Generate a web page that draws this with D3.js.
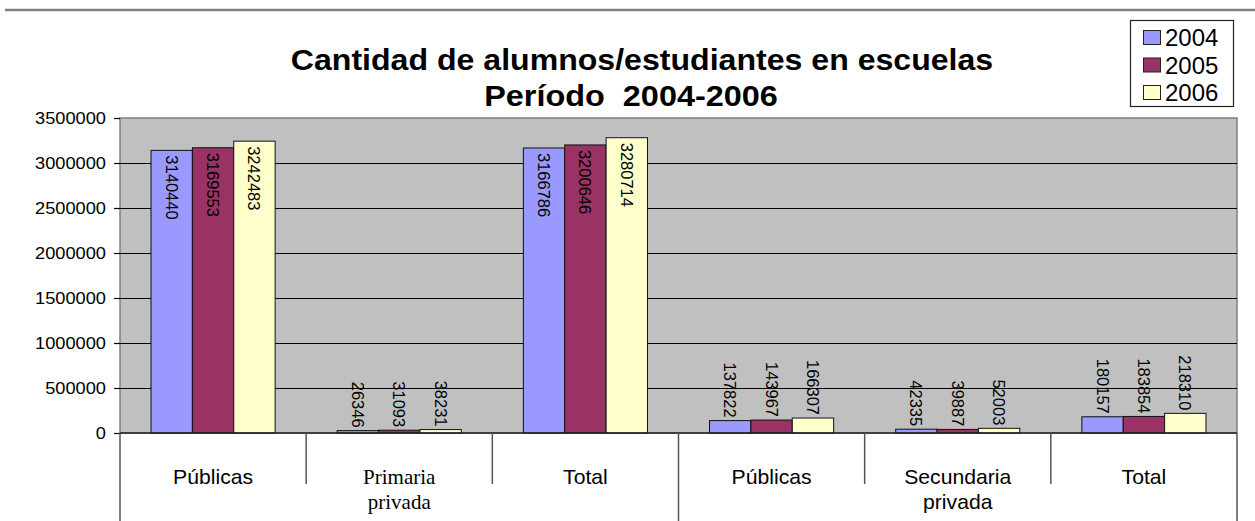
<!DOCTYPE html>
<html>
<head>
<meta charset="utf-8">
<script src="https://cdn.jsdelivr.net/npm/d3@7"></script>
<style>
  body { margin: 0; background: #fff; }
  text { font-family: "Liberation Sans", Arial, sans-serif; fill: #000; }
</style>
</head>
<body>
<svg id="chart" width="1255" height="521"></svg>
<script>
// data
const categories = ["Públicas", "Primaria privada", "Total", "Públicas", "Secundaria privada", "Total"];
const years = ["2004", "2005", "2006"];
const values2004 = [3140440, 26346, 3166786, 137822, 42335, 180157];
const values2005 = [3169553, 31093, 3200646, 143967, 39887, 183854];
const values2006 = [3242483, 38231, 3280714, 166307, 52003, 218310];
const yTicks = [0, 500000, 1000000, 1500000, 2000000, 2500000, 3000000, 3500000];
const groupEnds = [2, 5]; // last category of each group (Primaria / Secundaria)

const colors = { "2004": "#9999ff", "2005": "#993366", "2006": "#ffffcc" };
const series = [values2004, values2005, values2006];

const plot = { left: 120, right: 1237, top: 118, bottom: 433 };
const svg = d3.select("#chart");

// stretch text horizontally a bit, the picture is widened
function stretched(sel, x, y, k) {
  return sel.attr("transform", "translate(" + x + "," + y + ") scale(" + k + ",1)");
}

// top rule
svg.append("line")
  .attr("x1", 5).attr("x2", 1255).attr("y1", 10).attr("y2", 10)
  .attr("stroke", "#808080").attr("stroke-width", 2.5);

const x0 = d3.scaleBand().domain(d3.range(categories.length)).range([plot.left, plot.right]);
const x1 = d3.scaleBand().domain(years).range([0, x0.bandwidth()]).paddingOuter(0.75);
const y = d3.scaleLinear().domain([0, 3500000]).range([plot.bottom, plot.top]);

// plot area
svg.append("rect")
  .attr("x", plot.left).attr("y", plot.top)
  .attr("width", plot.right - plot.left).attr("height", plot.bottom - plot.top)
  .attr("fill", "#c0c0c0").attr("stroke", "#808080").attr("stroke-width", 1.5);

// grid lines
svg.append("g").selectAll("line")
  .data(yTicks.filter(t => t > 0 && t < 3500000))
  .join("line")
  .attr("x1", plot.left).attr("x2", plot.right)
  .attr("y1", d => Math.round(y(d)) + 0.5).attr("y2", d => Math.round(y(d)) + 0.5)
  .attr("stroke", "#000").attr("stroke-width", 1.2);

// y axis
const yAxis = d3.axisLeft(y).tickValues(yTicks).tickFormat(d3.format("d")).tickSize(6).tickPadding(8);
const gy = svg.append("g").attr("transform", "translate(" + plot.left + ",0)").call(yAxis);
gy.select(".domain").remove();
gy.selectAll(".tick line").attr("stroke", "#000").attr("stroke-width", 1.2);
gy.selectAll(".tick text")
  .attr("font-size", 16).attr("font-family", "Liberation Sans, Arial, sans-serif")
  .attr("fill", "#222")
  .each(function () {
    const t = d3.select(this);
    stretched(t, -14, 0, 1.14).attr("x", 0).attr("dy", "0.36em");
  });

// bars
const bars = svg.append("g");
series.forEach((vals, si) => {
  const yr = years[si];
  bars.append("g").selectAll("rect")
    .data(vals)
    .join("rect")
    .attr("x", (d, i) => x0(i) + x1(yr))
    .attr("y", d => y(d))
    .attr("width", x1.bandwidth())
    .attr("height", d => y(0) - y(d))
    .attr("fill", colors[yr])
    .attr("stroke", "#111").attr("stroke-width", 1);
});

// data labels, rotated: outside end when there is room, else inside end
const labelSize = 16.5;
series.forEach((vals, si) => {
  const yr = years[si];
  bars.append("g").selectAll("text")
    .data(vals)
    .join("text")
    .attr("font-size", labelSize)
    .attr("dominant-baseline", "central")
    .attr("text-anchor", d => (y(d) - plot.top > 75 ? "end" : "start"))
    .attr("transform", (d, i) => {
      const cx = x0(i) + x1(yr) + x1.bandwidth() / 2;
      const ty = y(d) - plot.top > 75 ? y(d) - 3 : y(d) + 5;
      return "translate(" + cx + "," + ty + ") rotate(90)";
    })
    .text(d => d);
});

// x axis line and category box
svg.append("line")
  .attr("x1", plot.left).attr("x2", plot.right)
  .attr("y1", plot.bottom).attr("y2", plot.bottom)
  .attr("stroke", "#222").attr("stroke-width", 1.5);

const seps = d3.range(categories.length + 1);
svg.append("g").selectAll("line")
  .data(seps)
  .join("line")
  .attr("x1", i => i < categories.length ? x0(i) : plot.right)
  .attr("x2", i => i < categories.length ? x0(i) : plot.right)
  .attr("y1", plot.bottom)
  .attr("y2", i => (i === 0 || i === categories.length || groupEnds.includes(i - 1)) ? 521 : 484)
  .attr("stroke", "#555").attr("stroke-width", 1.5);

const catG = svg.append("g");
categories.forEach((c, i) => {
  const cx = x0(i) + x0.bandwidth() / 2;
  const serif = c === "Primaria privada";
  const lines = c.includes(" ") ? c.split(" ") : [c];
  lines.forEach((ln, li) => {
    const t = catG.append("text")
      .attr("text-anchor", "middle")
      .attr("font-size", serif ? 21 : 20)
      .text(ln);
    if (serif) t.style("font-family", "'Liberation Serif', 'Times New Roman', serif");
    stretched(t, cx, 484 + li * 25, serif ? 1.0 : 1.06);
  });
});

// title
const title1 = svg.append("text").attr("text-anchor", "middle")
  .attr("font-size", 30).attr("font-weight", "bold")
  .text("Cantidad de alumnos/estudiantes en escuelas");
stretched(title1, 642, 70, 1.07);
const title2 = svg.append("text").attr("text-anchor", "middle")
  .attr("font-size", 30).attr("font-weight", "bold")
  .style("white-space", "pre")
  .text("Período  2004-2006");
stretched(title2, 631, 106, 1.08);

// legend
const legend = svg.append("g");
legend.append("rect")
  .attr("x", 1130.5).attr("y", 20.5).attr("width", 103).attr("height", 86)
  .attr("fill", "#fff").attr("stroke", "#222").attr("stroke-width", 1.2);
years.forEach((yr, i) => {
  const ly = 30 + i * 27.5;
  legend.append("rect")
    .attr("x", 1143.5).attr("y", ly + 0.5).attr("width", 17).attr("height", 14)
    .attr("fill", colors[yr]).attr("stroke", "#222").attr("stroke-width", 1);
  legend.append("text")
    .attr("x", 1165).attr("y", ly + 16)
    .attr("font-size", 24)
    .text(yr);
});
</script>
</body>
</html>
